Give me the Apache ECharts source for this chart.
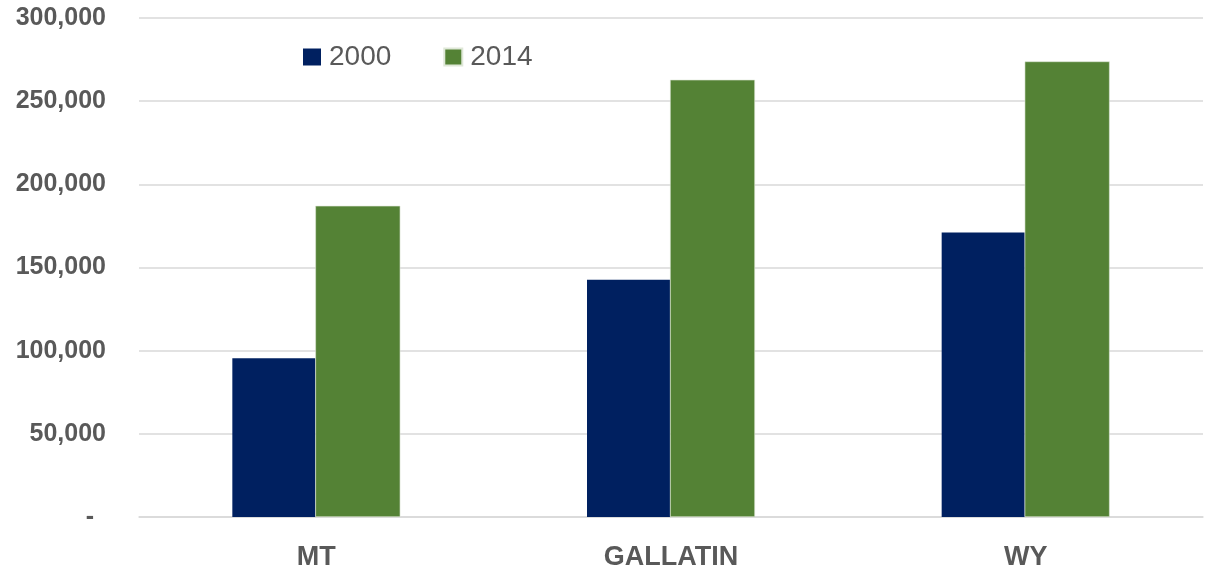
<!DOCTYPE html>
<html>
<head>
<meta charset="utf-8">
<script src="https://cdn.jsdelivr.net/npm/echarts@6/dist/echarts.min.js"></script>
<style>
  html, body { margin: 0; padding: 0; background: #ffffff; }
  #chart { width: 1205px; height: 573px; }
</style>
</head>
<body>
<div id="chart"></div>
<script>
// Regions compared
const categories = ['MT', 'GALLATIN', 'WY'];
// Values for each year
const values2000 = [95400, 142700, 171100];
const values2014 = [187100, 262900, 273900];
const seriesNames = ['2000', '2014'];
// Y axis range
const yMin = 0;
const yMax = 300000;
const yStep = 50000;

const textGray = '#595959';
const font = '"Liberation Sans", Arial, sans-serif';

const chart = echarts.init(document.getElementById('chart'), null, { renderer: 'canvas' });

chart.setOption({
  animation: false,
  backgroundColor: '#ffffff',
  grid: { left: 139, right: 2, top: 18, bottom: 56 },
  legend: {
    left: 298,
    top: 38,
    itemWidth: 18,
    itemHeight: 17,
    itemGap: 52,
    icon: 'rect',
    textStyle: { color: textGray, fontSize: 28, fontFamily: font, padding: [0, 0, 0, 3] },
    data: seriesNames
  },
  xAxis: {
    type: 'category',
    data: categories,
    axisLine: { show: true, lineStyle: { color: '#d9d9d9', width: 1.5 } },
    axisTick: { show: false },
    axisLabel: {
      color: textGray,
      fontSize: 27,
      fontWeight: 'bold',
      fontFamily: font,
      margin: 27
    }
  },
  yAxis: {
    type: 'value',
    min: yMin,
    max: yMax,
    interval: yStep,
    axisLine: { show: false },
    axisTick: { show: false },
    splitLine: { lineStyle: { color: '#d9d9d9', width: 1.5 } },
    axisLabel: {
      color: textGray,
      fontSize: 25,
      fontWeight: 'bold',
      fontFamily: font,
      margin: 33,
      formatter: function (v) {
        if (v === 0) return '{dash|-}';
        return v.toLocaleString('en-US');
      },
      rich: {
        dash: {
          color: textGray,
          fontSize: 25,
          fontWeight: 'bold',
          fontFamily: font,
          padding: [0, 12, 0, 0]
        }
      }
    }
  },
  series: [
    {
      name: seriesNames[0],
      type: 'bar',
      data: values2000,
      barWidth: 83,
      barGap: '0%',
      itemStyle: { color: '#002060' }
    },
    {
      name: seriesNames[1],
      type: 'bar',
      data: values2014,
      barWidth: 85,
      barGap: '0%',
      itemStyle: { color: '#548235', borderColor: '#dfe8d8', borderWidth: 0.6 }
    }
  ]
});
</script>
</body>
</html>
